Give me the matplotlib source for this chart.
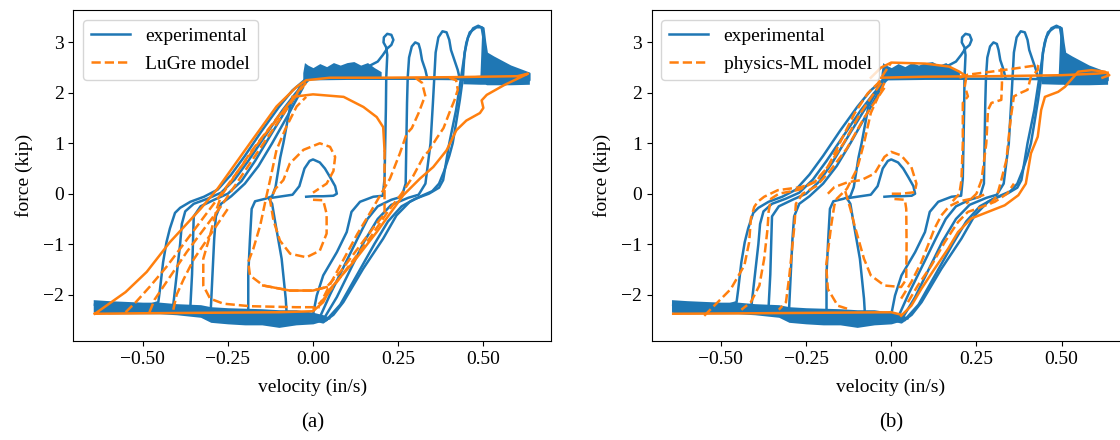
import numpy as np
import matplotlib
matplotlib.use('Agg')
from matplotlib import pyplot as plt

plt.rcParams['font.family'] = ['Liberation Serif', 'DejaVu Serif']
plt.rcParams['font.size'] = 14

BLUE = '#1f77b4'
ORANGE = '#ff7f0e'

# ---- experimental force-velocity record (same test in both panels) ----
# noisy upper plateau band
top_band_x = [-0.03, -0.025, -0.015, 0.0, 0.02, 0.04, 0.06, 0.08, 0.1, 0.12, 0.14, 0.16, 0.18, 0.2]
top_band_hi = [2.4, 2.6, 2.55, 2.5, 2.58, 2.52, 2.6, 2.55, 2.6, 2.62, 2.55, 2.6, 2.5, 2.42]
top_band_lo = [2.25, 2.27, 2.28, 2.28, 2.3, 2.28, 2.3, 2.29, 2.3, 2.29, 2.3, 2.29, 2.28, 2.27]
# plateau after the last peak
right_band_x = [0.44, 0.49, 0.495, 0.505, 0.51, 0.53, 0.58, 0.635]
right_band_hi = [2.33, 2.35, 3.2, 3.0, 2.78, 2.7, 2.52, 2.4]
right_band_lo = [2.18, 2.17, 2.17, 2.17, 2.16, 2.16, 2.16, 2.17]
# noisy lower plateau band
bot_band_x = [-0.645, -0.6, -0.5, -0.45, -0.4, -0.33, -0.3, -0.25, -0.2, -0.15, -0.1, -0.05, 0.0, 0.03, 0.05]
bot_band_hi = [-2.1, -2.12, -2.15, -2.15, -2.18, -2.2, -2.24, -2.26, -2.27, -2.28, -2.3, -2.3, -2.35, -2.4, -2.45]
bot_band_lo = [-2.35, -2.38, -2.38, -2.38, -2.4, -2.45, -2.55, -2.58, -2.6, -2.6, -2.65, -2.6, -2.58, -2.52, -2.48]

# rising branches (positive velocity side)
exp_rise_1 = [(0.0, -2.5), (0.03, -2.55), (0.06, -2.4), (0.089, -2.15), (0.147, -1.49), (0.206, -0.89),
              (0.245, -0.43), (0.284, -0.16), (0.323, -0.03), (0.35, 0.05), (0.37, 0.2), (0.385, 0.45),
              (0.40, 0.75), (0.41, 1.0), (0.42, 1.4), (0.431, 1.86), (0.44, 2.3), (0.445, 2.8), (0.455, 3.1),
              (0.47, 3.28), (0.485, 3.33), (0.5, 3.28), (0.505, 3.0), (0.51, 2.78), (0.53, 2.7),
              (0.58, 2.52), (0.635, 2.38), (0.635, 2.25), (0.5, 2.27), (0.3, 2.28), (0.1, 2.28), (-0.02, 2.27)]
exp_rise_2 = [(0.04, -2.5), (0.08, -2.2), (0.13, -1.6), (0.18, -1.0), (0.22, -0.55), (0.26, -0.25),
              (0.3, -0.1), (0.34, 0.0), (0.37, 0.12), (0.382, 0.27), (0.40, 1.0), (0.42, 1.66),
              (0.435, 2.32), (0.45, 2.99), (0.46, 3.2), (0.48, 3.3), (0.495, 3.3), (0.5, 3.1), (0.5, 2.9)]
exp_rise_3 = [(0.0, -2.4), (0.011, -2.02), (0.03, -1.62), (0.07, -1.16), (0.099, -0.76), (0.113, -0.36),
              (0.138, -0.16), (0.177, -0.06), (0.205, -0.04), (0.21, 0.3), (0.212, 1.0), (0.214, 1.7),
              (0.215, 2.3), (0.218, 2.75), (0.215, 2.9), (0.207, 3.0), (0.208, 3.1), (0.218, 3.17),
              (0.23, 3.15), (0.236, 3.05), (0.23, 2.95), (0.218, 2.88), (0.205, 2.75), (0.19, 2.62),
              (0.17, 2.55)]
exp_rise_4 = [(0.02, -2.45), (0.05, -2.0), (0.09, -1.45), (0.13, -0.9), (0.16, -0.5), (0.19, -0.25),
              (0.23, -0.12), (0.26, -0.06), (0.272, 0.2), (0.274, 1.0), (0.276, 1.8), (0.278, 2.3),
              (0.282, 2.7), (0.29, 2.92), (0.3, 3.0), (0.31, 2.97), (0.315, 2.85), (0.32, 2.65),
              (0.33, 2.45), (0.335, 2.3)]
exp_rise_5 = [(0.03, -2.5), (0.07, -2.05), (0.11, -1.5), (0.15, -0.95), (0.19, -0.5), (0.23, -0.22),
              (0.28, -0.08), (0.31, -0.02), (0.33, 0.2), (0.345, 1.0), (0.352, 1.8), (0.356, 2.3),
              (0.36, 2.8), (0.368, 3.1), (0.38, 3.22), (0.392, 3.2), (0.4, 3.05), (0.405, 2.85),
              (0.415, 2.65), (0.425, 2.45), (0.43, 2.3)]

# falling branches (negative velocity side)
exp_fall_1 = [(-0.02, 2.28), (-0.06, 2.05), (-0.1, 1.72), (-0.15, 1.25), (-0.2, 0.75), (-0.24, 0.38),
              (-0.28, 0.08), (-0.32, -0.06), (-0.36, -0.16), (-0.39, -0.28), (-0.405, -0.38), (-0.42, -0.69),
              (-0.43, -0.96), (-0.44, -1.36), (-0.449, -1.89), (-0.454, -2.15), (-0.5, -2.25), (-0.64, -2.2)]
exp_fall_2 = [(-0.01, 2.28), (-0.05, 2.0), (-0.09, 1.65), (-0.14, 1.15), (-0.19, 0.65), (-0.23, 0.28),
              (-0.27, 0.02), (-0.31, -0.1), (-0.35, -0.2), (-0.375, -0.35), (-0.385, -0.6), (-0.39, -1.0),
              (-0.4, -1.6), (-0.41, -2.2)]
exp_fall_3 = [(-0.04, 2.05), (-0.08, 1.65), (-0.13, 1.1), (-0.17, 0.65), (-0.21, 0.25), (-0.25, 0.0),
              (-0.29, -0.12), (-0.33, -0.25), (-0.35, -0.45), (-0.352, -0.9), (-0.355, -1.6), (-0.36, -2.25)]
exp_fall_4 = [(-0.03, 2.1), (-0.07, 1.6), (-0.12, 1.0), (-0.16, 0.55), (-0.2, 0.2), (-0.24, -0.05),
              (-0.27, -0.2), (-0.285, -0.45), (-0.29, -0.9), (-0.295, -1.6), (-0.3, -2.3)]
exp_fall_5 = [(-0.02, 2.28), (-0.04, 2.1), (-0.067, 1.73), (-0.087, 1.0), (-0.096, 0.72), (-0.11, 0.13),
              (-0.12, -0.05), (-0.14, -0.1), (-0.17, -0.15), (-0.18, -0.3), (-0.185, -0.9), (-0.19, -1.6),
              (-0.19, -2.3)]
# small cycle around zero velocity
exp_center = [(-0.078, -2.3), (-0.08, -2.08), (-0.092, -1.29), (-0.111, -0.56), (-0.12, -0.2), (-0.13, -0.09),
              (-0.1, -0.06), (-0.06, -0.02), (-0.04, 0.15), (-0.025, 0.5), (-0.01, 0.65), (0.0, 0.68),
              (0.02, 0.62), (0.035, 0.5), (0.05, 0.33), (0.065, 0.15), (0.07, 0.0), (0.06, -0.04),
              (0.03, -0.05), (0.0, -0.05), (-0.02, -0.06)]

exp_paths = [exp_rise_1, exp_rise_2, exp_rise_3, exp_rise_4, exp_rise_5,
             exp_fall_1, exp_fall_2, exp_fall_3, exp_fall_4, exp_fall_5, exp_center]

# ---- LuGre model ----
lugre_outer = [(-0.64, -2.38), (-0.5, -2.37), (-0.3, -2.36), (-0.1, -2.35), (0.0, -2.33), (0.03, -2.15),
               (0.05, -1.89), (0.118, -1.36), (0.187, -0.76), (0.265, -0.03), (0.314, 0.3), (0.353, 0.53),
               (0.392, 0.86), (0.421, 1.26), (0.45, 1.45), (0.49, 1.6), (0.5, 1.7), (0.495, 1.85),
               (0.51, 1.96), (0.56, 2.15), (0.631, 2.38), (0.6, 2.33), (0.4, 2.31), (0.2, 2.3), (0.05, 2.3),
               (-0.02, 2.25), (-0.048, 2.12), (-0.107, 1.73), (-0.185, 1.0), (-0.28, 0.1), (-0.33, -0.3),
               (-0.42, -0.96), (-0.488, -1.55), (-0.55, -1.95), (-0.64, -2.38)]
lugre_inner_top = [(-0.06, 1.92), (0.0, 1.97), (0.09, 1.92), (0.148, 1.72), (0.187, 1.52), (0.206, 1.32),
                   (0.21, 0.86)]
lugre_inner = [(0.21, 0.86), (0.21, 0.2), (0.21, -0.4), (0.18, -0.65), (0.13, -1.1), (0.08, -1.55),
               (0.04, -1.85), (0.0, -1.92), (-0.068, -1.92), (-0.146, -1.82), (-0.185, -1.62), (-0.19, -1.35),
               (-0.175, -1.09), (-0.155, -0.63), (-0.136, -0.03), (-0.126, 0.27), (-0.107, 0.87),
               (-0.08, 1.3), (-0.048, 1.73), (-0.02, 1.92)]
lugre_inner_bot = [(-0.146, -1.82), (-0.068, -1.92), (0.0, -1.92), (0.04, -1.85)]
lugre_spiral = [(0.0, -0.12), (0.03, -0.13), (0.04, -0.4), (0.04, -0.79), (0.02, -1.13), (-0.019, -1.26),
                (-0.067, -1.19), (-0.097, -0.93), (-0.116, -0.53), (-0.126, -0.13), (-0.11, 0.1),
                (-0.087, 0.27), (-0.068, 0.6), (-0.028, 0.87), (0.02, 1.0), (0.05, 0.93), (0.065, 0.73),
                (0.06, 0.45), (0.04, 0.2), (0.0, 0.02)]
lugre_down_1 = [(0.40, 2.3), (0.42, 2.25), (0.425, 2.06), (0.415, 1.85), (0.40, 1.6), (0.383, 1.3),
                (0.363, 1.1), (0.34, 0.85), (0.324, 0.73), (0.294, 0.35), (0.26, 0.0), (0.22, -0.35),
                (0.17, -0.85), (0.12, -1.3), (0.07, -1.75), (0.03, -2.1), (0.0, -2.3)]
lugre_down_2 = [(0.3, 2.3), (0.32, 2.2), (0.33, 1.93), (0.324, 1.85), (0.31, 1.6), (0.29, 1.3),
                (0.275, 1.19), (0.255, 0.8), (0.226, 0.3), (0.2, 0.0), (0.17, -0.35), (0.13, -0.8),
                (0.09, -1.3), (0.05, -1.8), (0.02, -2.2)]
lugre_up_1 = [(-0.02, 2.2), (-0.1, 1.55), (-0.18, 0.85), (-0.24, 0.25), (-0.27, -0.05), (-0.282, -0.29),
              (-0.302, -0.82), (-0.322, -1.29), (-0.322, -1.82), (-0.302, -2.08), (-0.263, -2.18),
              (-0.185, -2.23), (-0.05, -2.25), (0.02, -2.25)]
lugre_up_2 = [(-0.55, -2.35), (-0.52, -2.15), (-0.48, -1.85), (-0.43, -1.45), (-0.38, -1.0), (-0.33, -0.55),
              (-0.28, -0.1), (-0.22, 0.45), (-0.15, 1.1), (-0.08, 1.7), (-0.03, 2.15)]
lugre_up_3 = [(-0.48, -2.35), (-0.465, -2.1), (-0.44, -1.85), (-0.41, -1.55), (-0.37, -1.15), (-0.32, -0.7),
              (-0.27, -0.25), (-0.22, 0.25), (-0.16, 0.85), (-0.1, 1.45), (-0.05, 1.95)]
lugre_up_4 = [(-0.41, -2.3), (-0.4, -2.0), (-0.38, -1.7), (-0.35, -1.3), (-0.3, -0.8), (-0.25, -0.3)]

lugre_solid = [lugre_outer, lugre_inner_top, lugre_inner_bot]
lugre_dashed = [lugre_inner, lugre_spiral, lugre_down_1, lugre_down_2, lugre_up_1, lugre_up_2,
                lugre_up_3, lugre_up_4]

# ---- physics-ML model ----
ml_plateau = [(-0.03, 2.3), (0.1, 2.32), (0.3, 2.33), (0.5, 2.35), (0.6, 2.38), (0.635, 2.4)]
ml_upper = [(-0.06, 2.3), (-0.03, 2.5), (0.0, 2.6), (0.1, 2.58), (0.17, 2.52), (0.2, 2.42), (0.22, 2.33)]
ml_outer_right = [(0.029, -2.42), (0.059, -2.22), (0.088, -1.89), (0.127, -1.49), (0.167, -1.09),
                  (0.196, -0.76), (0.235, -0.49), (0.284, -0.36), (0.333, -0.23), (0.373, -0.03),
                  (0.395, 0.2), (0.41, 0.8), (0.43, 1.13), (0.44, 1.66), (0.451, 1.92), (0.49, 2.02),
                  (0.51, 2.12), (0.549, 2.42), (0.588, 2.45), (0.627, 2.42), (0.64, 2.35), (0.62, 2.3)]
ml_bottom = [(-0.64, -2.38), (-0.4, -2.37), (-0.2, -2.36), (0.0, -2.35), (0.03, -2.4)]
ml_rise = [(0.2, 2.3), (0.225, 2.36), (0.294, 2.42), (0.36, 2.48), (0.431, 2.55)]
ml_down_1 = [(0.431, 2.55), (0.43, 2.45), (0.41, 2.32), (0.40, 2.06), (0.38, 2.0), (0.36, 1.93),
             (0.353, 1.6), (0.348, 1.33), (0.338, 0.67), (0.323, 0.27), (0.31, -0.05), (0.29, -0.2)]
ml_down_2 = [(0.323, 2.49), (0.325, 2.2), (0.323, 1.86), (0.294, 1.8), (0.284, 1.66), (0.279, 1.0),
             (0.265, 0.27), (0.25, 0.0), (0.22, -0.2)]
ml_down_3 = [(0.22, 2.3), (0.216, 2.13), (0.225, 1.93), (0.21, 1.8), (0.21, 1.0), (0.206, 0.27),
             (0.2, 0.0), (0.18, -0.15)]
ml_right_1 = [(0.049, -2.15), (0.078, -1.82), (0.118, -1.42), (0.157, -0.96), (0.196, -0.56), (0.225, -0.36),
              (0.255, -0.29), (0.304, -0.16), (0.34, 0.0), (0.36, 0.2)]
ml_right_2 = [(0.029, -2.08), (0.059, -1.75), (0.088, -1.36), (0.108, -1.02), (0.127, -0.69), (0.147, -0.43),
              (0.17, -0.25), (0.2, -0.15), (0.25, -0.08), (0.28, 0.0)]
ml_left_1 = [(-0.549, -2.42), (-0.49, -2.02), (-0.471, -1.89), (-0.431, -1.42), (-0.417, -0.96),
             (-0.412, -0.49), (-0.402, -0.26), (-0.392, -0.16), (-0.373, -0.06), (-0.333, 0.07),
             (-0.265, 0.13), (-0.225, 0.23), (-0.186, 0.53), (-0.147, 1.06), (-0.108, 1.59),
             (-0.069, 1.99), (-0.039, 2.19), (-0.02, 2.4), (0.0, 2.6)]
ml_left_2 = [(-0.03, 2.2), (-0.09, 1.6), (-0.14, 1.0), (-0.19, 0.5), (-0.22, 0.25), (-0.27, 0.08),
             (-0.33, 0.0), (-0.353, -0.1), (-0.36, -0.36), (-0.363, -0.69), (-0.373, -1.29),
             (-0.387, -1.82), (-0.412, -2.15), (-0.44, -2.3)]
ml_left_3 = [(-0.02, 2.1), (-0.08, 1.5), (-0.13, 0.9), (-0.18, 0.45), (-0.22, 0.15), (-0.26, 0.0),
             (-0.28, -0.2), (-0.284, -0.62), (-0.289, -0.96), (-0.299, -1.62), (-0.309, -2.15), (-0.33, -2.3)]
ml_left_4 = [(-0.02, 2.2), (-0.06, 1.6), (-0.08, 1.0), (-0.1, 0.5), (-0.13, 0.1), (-0.16, -0.1),
             (-0.167, -0.23), (-0.176, -0.62), (-0.191, -1.42), (-0.186, -1.89), (-0.157, -2.22), (-0.12, -2.3)]
ml_center_up = [(-0.186, 0.0), (-0.167, 0.13), (-0.127, 0.23), (-0.088, 0.27), (-0.049, 0.4), (-0.02, 0.73),
                (0.0, 0.83), (0.029, 0.76), (0.059, 0.53), (0.074, 0.2), (0.069, 0.03), (0.029, 0.0), (-0.01, 0.0)]
ml_center_down = [(-0.135, 0.05), (-0.12, -0.3), (-0.108, -0.62), (-0.08, -1.29), (-0.06, -1.62),
                  (-0.02, -1.82), (0.029, -1.85), (0.044, -1.7), (0.045, -1.0), (0.044, -0.3),
                  (0.04, -0.12), (0.0, -0.1)]

ml_solid = [ml_plateau, ml_upper, ml_outer_right, ml_bottom]
ml_dashed = [ml_rise, ml_down_1, ml_down_2, ml_down_3, ml_right_1, ml_right_2, ml_left_1, ml_left_2,
             ml_left_3, ml_left_4, ml_center_up, ml_center_down]


def draw_experimental(ax):
    ax.fill_between(top_band_x, top_band_lo, top_band_hi, color=BLUE, lw=0)
    ax.fill_between(right_band_x, right_band_lo, right_band_hi, color=BLUE, lw=0)
    ax.fill_between(bot_band_x, bot_band_lo, bot_band_hi, color=BLUE, lw=0)
    handle = None
    for p in exp_paths:
        xy = np.array(p)
        line, = ax.plot(xy[:, 0], xy[:, 1], color=BLUE, lw=1.8)
        handle = handle or line
    return handle


def draw_model(ax, solid, dashed):
    for p in solid:
        xy = np.array(p)
        ax.plot(xy[:, 0], xy[:, 1], color=ORANGE, lw=1.8, ls='-')
    handle = None
    for p in dashed:
        xy = np.array(p)
        line, = ax.plot(xy[:, 0], xy[:, 1], color=ORANGE, lw=1.8, ls='--')
        handle = handle or line
    return handle


def style_axes(ax):
    ax.set_xlim(-0.703, 0.70)
    ax.set_ylim(-2.92, 3.64)
    ax.set_xticks([-0.5, -0.25, 0.0, 0.25, 0.5])
    ax.set_yticks([-2, -1, 0, 1, 2, 3])
    ax.set_xlabel('velocity (in/s)', labelpad=8)
    ax.set_ylabel('force (kip)', labelpad=7)


fig = plt.figure(figsize=(11.2, 4.4), dpi=100)
ax_a = fig.add_axes([0.0656, 0.225, 0.4268, 0.752])
ax_b = fig.add_axes([0.5819, 0.225, 0.4268, 0.752])

h_exp = draw_experimental(ax_a)
h_mod = draw_model(ax_a, lugre_solid, lugre_dashed)
style_axes(ax_a)
ax_a.legend([h_exp, h_mod], ['experimental', 'LuGre model'], loc='upper left', fontsize=14)

h_exp = draw_experimental(ax_b)
h_mod = draw_model(ax_b, ml_solid, ml_dashed)
style_axes(ax_b)
ax_b.legend([h_exp, h_mod], ['experimental', 'physics-ML model'], loc='upper left', fontsize=14)

fig.text(0.279, 0.04, '(a)', ha='center', va='center', fontsize=15)
fig.text(0.7953, 0.04, '(b)', ha='center', va='center', fontsize=15)

fig.savefig('out.png', dpi=100)
